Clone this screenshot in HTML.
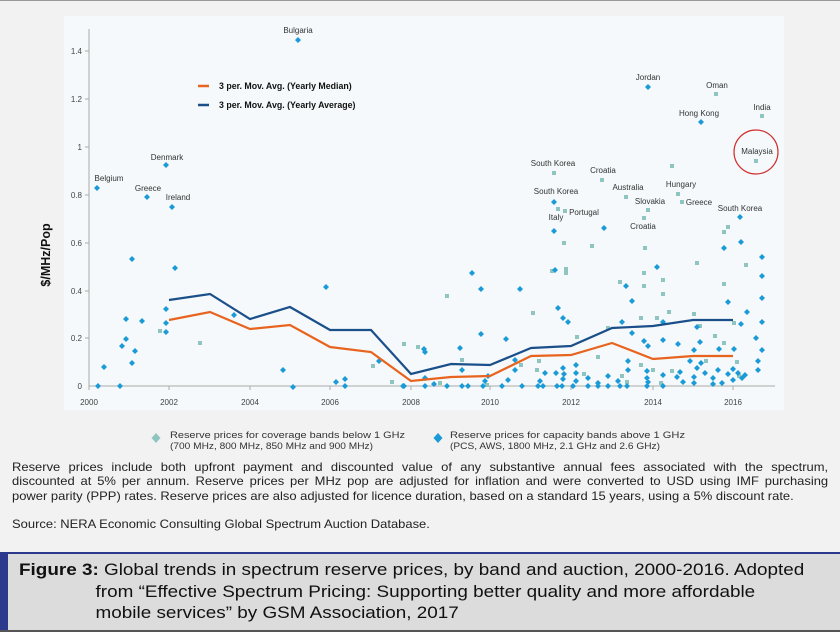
<!DOCTYPE html>
<html><head><meta charset="utf-8"><style>
html,body{margin:0;padding:0;}
body{width:840px;height:630px;background:#f2f2f2;position:relative;overflow:hidden;font-family:"Liberation Sans",sans-serif;}
.p{position:absolute;left:12px;top:461px;font-size:11.6px;line-height:14.3px;color:#222;width:730px;transform:scaleX(1.118);transform-origin:0 0;}
.p .j{display:block;text-align:justify;text-align-last:justify;white-space:nowrap;}
.cap{position:absolute;left:0;top:552px;width:840px;height:76px;background:#dcdcdc;border-top:2px solid #2b3a8c;border-bottom:2px solid #555;}
.bar{position:absolute;left:0;top:552px;width:8px;height:78px;background:#2b3a8c;}
.ct{position:absolute;left:19px;top:560px;font-size:16.3px;line-height:21.5px;color:#111;transform:scaleX(1.16);transform-origin:0 0;white-space:nowrap;}
</style></head><body>
<div style="position:absolute;left:0;top:0;width:840px;height:1px;background:#999"></div>
<svg width="840" height="630" style="position:absolute;left:0;top:0" font-family="Liberation Sans, sans-serif">
<rect x="64" y="16" width="720" height="394" fill="#f5f9fb"/>
<g stroke="#aaa" stroke-width="1">
<line x1="89" y1="29" x2="89" y2="386"/><line x1="89" y1="386" x2="775" y2="386"/>
<line x1="85" y1="51" x2="89" y2="51"/><line x1="85" y1="99" x2="89" y2="99"/><line x1="85" y1="147" x2="89" y2="147"/><line x1="85" y1="195" x2="89" y2="195"/><line x1="85" y1="243" x2="89" y2="243"/><line x1="85" y1="291" x2="89" y2="291"/><line x1="85" y1="338" x2="89" y2="338"/>
<line x1="89" y1="386" x2="89" y2="390"/><line x1="169" y1="386" x2="169" y2="390"/><line x1="250" y1="386" x2="250" y2="390"/><line x1="330" y1="386" x2="330" y2="390"/><line x1="411" y1="386" x2="411" y2="390"/><line x1="490" y1="386" x2="490" y2="390"/><line x1="571" y1="386" x2="571" y2="390"/><line x1="653" y1="386" x2="653" y2="390"/><line x1="733" y1="386" x2="733" y2="390"/>
</g>
<g font-size="8" fill="#444" text-anchor="end">
<text x="82" y="54">1.4</text><text x="82" y="102">1.2</text><text x="82" y="150">1</text><text x="82" y="198">0.8</text><text x="82" y="246">0.6</text><text x="82" y="294">0.4</text><text x="82" y="341">0.2</text><text x="82" y="389">0</text>
</g>
<g font-size="8" fill="#444" text-anchor="middle">
<text x="89" y="405">2000</text><text x="169" y="405">2002</text><text x="250" y="405">2004</text><text x="330" y="405">2006</text><text x="411" y="405">2008</text><text x="490" y="405">2010</text><text x="571" y="405">2012</text><text x="653" y="405">2014</text><text x="733" y="405">2016</text>
</g>
<text transform="translate(50,255) rotate(-90)" font-size="12.5" font-weight="bold" text-anchor="middle" fill="#111">$/MHz/Pop</text>
<line x1="198" y1="86" x2="209" y2="86" stroke="#e8641e" stroke-width="2.5"/>
<line x1="198" y1="105" x2="209" y2="105" stroke="#1a4f8a" stroke-width="2.5"/>
<text x="219" y="89" font-size="8.8" font-weight="bold" fill="#111">3 per. Mov. Avg. (Yearly Median)</text>
<text x="219" y="108" font-size="8.8" font-weight="bold" fill="#111">3 per. Mov. Avg. (Yearly Average)</text>
<g fill="#8fc5c0">
<rect x="158" y="329" width="4" height="4"/><rect x="198" y="341" width="4" height="4"/><rect x="371" y="364" width="4" height="4"/><rect x="390" y="380" width="4" height="4"/><rect x="402" y="342" width="4" height="4"/><rect x="416" y="345" width="4" height="4"/>
<rect x="445" y="294" width="4" height="4"/><rect x="531" y="311" width="4" height="4"/><rect x="562" y="241" width="4" height="4"/><rect x="590" y="244" width="4" height="4"/><rect x="550" y="269" width="4" height="4"/><rect x="564" y="267" width="4" height="4"/><rect x="564" y="271" width="4" height="4"/>
<rect x="643" y="246" width="4" height="4"/><rect x="642" y="271" width="4" height="4"/><rect x="642" y="284" width="4" height="4"/><rect x="661" y="278" width="4" height="4"/><rect x="661" y="292" width="4" height="4"/><rect x="618" y="280" width="4" height="4"/><rect x="695" y="261" width="4" height="4"/><rect x="722" y="282" width="4" height="4"/><rect x="744" y="263" width="4" height="4"/><rect x="722" y="230" width="4" height="4"/><rect x="726" y="225" width="4" height="4"/>
<rect x="670" y="164" width="4" height="4"/><rect x="676" y="192" width="4" height="4"/><rect x="680" y="200" width="4" height="4"/><rect x="646" y="208" width="4" height="4"/><rect x="642" y="216" width="4" height="4"/><rect x="600" y="178" width="4" height="4"/><rect x="624" y="195" width="4" height="4"/><rect x="552" y="171" width="4" height="4"/><rect x="556" y="207" width="4" height="4"/><rect x="563" y="209" width="4" height="4"/>
<rect x="714" y="92" width="4" height="4"/><rect x="760" y="114" width="4" height="4"/><rect x="754" y="159" width="4" height="4"/>
<rect x="667" y="310" width="4" height="4"/><rect x="692" y="312" width="4" height="4"/><rect x="698" y="324" width="4" height="4"/><rect x="732" y="321" width="4" height="4"/><rect x="639" y="316" width="4" height="4"/><rect x="655" y="316" width="4" height="4"/><rect x="606" y="326" width="4" height="4"/><rect x="575" y="335" width="4" height="4"/><rect x="596" y="355" width="4" height="4"/><rect x="460" y="358" width="4" height="4"/><rect x="537" y="359" width="4" height="4"/><rect x="713" y="334" width="4" height="4"/><rect x="722" y="341" width="4" height="4"/><rect x="704" y="359" width="4" height="4"/><rect x="735" y="360" width="4" height="4"/><rect x="651" y="368" width="4" height="4"/><rect x="639" y="363" width="4" height="4"/>
<rect x="519" y="363" width="4" height="4"/><rect x="535" y="368" width="4" height="4"/><rect x="582" y="372" width="4" height="4"/><rect x="620" y="374" width="4" height="4"/><rect x="625" y="380" width="4" height="4"/><rect x="485" y="383" width="4" height="4"/><rect x="438" y="381" width="4" height="4"/><rect x="659" y="381" width="4" height="4"/><rect x="670" y="369" width="4" height="4"/><rect x="737" y="374" width="4" height="4"/>
</g>
<g fill="#1a9ad6">
<path d="M97,185l3,3l-3,3l-3,-3z M298,37l3,3l-3,3l-3,-3z M166,162l3,3l-3,3l-3,-3z M147,194l3,3l-3,3l-3,-3z M172,204l3,3l-3,3l-3,-3z M648,84l3,3l-3,3l-3,-3z M701,119l3,3l-3,3l-3,-3z M740,214l3,3l-3,3l-3,-3z M554,199l3,3l-3,3l-3,-3z M554,228l3,3l-3,3l-3,-3z M604,225l3,3l-3,3l-3,-3z"/>
<path d="M472,270l3,3l-3,3l-3,-3z M481,286l3,3l-3,3l-3,-3z M520,286l3,3l-3,3l-3,-3z M481,331l3,3l-3,3l-3,-3z M506,336l3,3l-3,3l-3,-3z M460,345l3,3l-3,3l-3,-3z M462,367l3,3l-3,3l-3,-3z M515,357l3,3l-3,3l-3,-3z M555,267l3,3l-3,3l-3,-3z M558,305l3,3l-3,3l-3,-3z M563,315l3,3l-3,3l-3,-3z M568,319l3,3l-3,3l-3,-3z M626,283l3,3l-3,3l-3,-3z M632,298l3,3l-3,3l-3,-3z M622,319l3,3l-3,3l-3,-3z M632,330l3,3l-3,3l-3,-3z M657,264l3,3l-3,3l-3,-3z M663,319l3,3l-3,3l-3,-3z M644,338l3,3l-3,3l-3,-3z M648,343l3,3l-3,3l-3,-3z M663,337l3,3l-3,3l-3,-3z M678,341l3,3l-3,3l-3,-3z M697,324l3,3l-3,3l-3,-3z M700,339l3,3l-3,3l-3,-3z M694,347l3,3l-3,3l-3,-3z M724,245l3,3l-3,3l-3,-3z M741,239l3,3l-3,3l-3,-3z M728,299l3,3l-3,3l-3,-3z M747,309l3,3l-3,3l-3,-3z M741,321l3,3l-3,3l-3,-3z M762,254l3,3l-3,3l-3,-3z M762,273l3,3l-3,3l-3,-3z M762,295l3,3l-3,3l-3,-3z M762,319l3,3l-3,3l-3,-3z M756,335l3,3l-3,3l-3,-3z M762,347l3,3l-3,3l-3,-3z M758,358l3,3l-3,3l-3,-3z M758,367l3,3l-3,3l-3,-3z M734,346l3,3l-3,3l-3,-3z M719,346l3,3l-3,3l-3,-3z"/>
<path d="M98,383l3,3l-3,3l-3,-3z M104,364l3,3l-3,3l-3,-3z M120,383l3,3l-3,3l-3,-3z M122,343l3,3l-3,3l-3,-3z M126,316l3,3l-3,3l-3,-3z M126,336l3,3l-3,3l-3,-3z M132,360l3,3l-3,3l-3,-3z M132,256l3,3l-3,3l-3,-3z M135,348l3,3l-3,3l-3,-3z M142,318l3,3l-3,3l-3,-3z M166,306l3,3l-3,3l-3,-3z M166,320l3,3l-3,3l-3,-3z M166,329l3,3l-3,3l-3,-3z M175,265l3,3l-3,3l-3,-3z M234,312l3,3l-3,3l-3,-3z M283,367l3,3l-3,3l-3,-3z M293,384l3,3l-3,3l-3,-3z M326,284l3,3l-3,3l-3,-3z M336,379l3,3l-3,3l-3,-3z M345,376l3,3l-3,3l-3,-3z M345,383l3,3l-3,3l-3,-3z M379,358l3,3l-3,3l-3,-3z M404,383l3,3l-3,3l-3,-3z M424,346l3,3l-3,3l-3,-3z M425,349l3,3l-3,3l-3,-3z"/>
<path d="M403,383l3,3l-3,3l-3,-3z M425,383l3,3l-3,3l-3,-3z M447,383l3,3l-3,3l-3,-3z M462,383l3,3l-3,3l-3,-3z M468,383l3,3l-3,3l-3,-3z M483,383l3,3l-3,3l-3,-3z M502,383l3,3l-3,3l-3,-3z M522,383l3,3l-3,3l-3,-3z M538,383l3,3l-3,3l-3,-3z M543,383l3,3l-3,3l-3,-3z M557,383l3,3l-3,3l-3,-3z M562,383l3,3l-3,3l-3,-3z M573,383l3,3l-3,3l-3,-3z M588,383l3,3l-3,3l-3,-3z M598,383l3,3l-3,3l-3,-3z M608,383l3,3l-3,3l-3,-3z M620,383l3,3l-3,3l-3,-3z M627,383l3,3l-3,3l-3,-3z M647,383l3,3l-3,3l-3,-3z M663,383l3,3l-3,3l-3,-3z"/>
<path d="M425,375l3,3l-3,3l-3,-3z M434,381l3,3l-3,3l-3,-3z M485,378l3,3l-3,3l-3,-3z M488,373l3,3l-3,3l-3,-3z M508,377l3,3l-3,3l-3,-3z M515,367l3,3l-3,3l-3,-3z M540,378l3,3l-3,3l-3,-3z M545,370l3,3l-3,3l-3,-3z M556,370l3,3l-3,3l-3,-3z M563,376l3,3l-3,3l-3,-3z M563,365l3,3l-3,3l-3,-3z M564,371l3,3l-3,3l-3,-3z M576,378l3,3l-3,3l-3,-3z M576,362l3,3l-3,3l-3,-3z M576,370l3,3l-3,3l-3,-3z M588,375l3,3l-3,3l-3,-3z M598,380l3,3l-3,3l-3,-3z M608,373l3,3l-3,3l-3,-3z M618,378l3,3l-3,3l-3,-3z M628,367l3,3l-3,3l-3,-3z M628,358l3,3l-3,3l-3,-3z M647,375l3,3l-3,3l-3,-3z M647,368l3,3l-3,3l-3,-3z M648,379l3,3l-3,3l-3,-3z M663,372l3,3l-3,3l-3,-3z M677,374l3,3l-3,3l-3,-3z M680,369l3,3l-3,3l-3,-3z M683,379l3,3l-3,3l-3,-3z M694,374l3,3l-3,3l-3,-3z M694,380l3,3l-3,3l-3,-3z M697,365l3,3l-3,3l-3,-3z M705,370l3,3l-3,3l-3,-3z M713,375l3,3l-3,3l-3,-3z M713,381l3,3l-3,3l-3,-3z M718,367l3,3l-3,3l-3,-3z M722,380l3,3l-3,3l-3,-3z M728,371l3,3l-3,3l-3,-3z M733,377l3,3l-3,3l-3,-3z M738,370l3,3l-3,3l-3,-3z M742,375l3,3l-3,3l-3,-3z M745,372l3,3l-3,3l-3,-3z M733,366l3,3l-3,3l-3,-3z M701,360l3,3l-3,3l-3,-3z M690,358l3,3l-3,3l-3,-3z"/>
</g>
<polyline fill="none" stroke="#1a4f8a" stroke-width="2.2" points="169,300 210,294 250,319 290,307 330,330 371,330 411,374 451,364 490,365 531,348 571,346 612,328 653,326 693,320 733,320"/>
<polyline fill="none" stroke="#e8641e" stroke-width="2.2" points="169,320 210,312 250,329 290,325 330,347 371,352 411,381 451,377 490,376 531,356 571,355 612,343 653,359 693,356 733,356"/>
<g font-size="8" fill="#333" text-anchor="middle">
<text x="109" y="181">Belgium</text><text x="298" y="33">Bulgaria</text><text x="167" y="160">Denmark</text><text x="148" y="191">Greece</text><text x="178" y="200">Ireland</text>
<text x="648" y="80">Jordan</text><text x="717" y="88">Oman</text><text x="699" y="116">Hong Kong</text><text x="762" y="110">India</text><text x="757" y="154">Malaysia</text>
<text x="553" y="166">South Korea</text><text x="603" y="173">Croatia</text><text x="628" y="190">Australia</text><text x="681" y="187">Hungary</text><text x="650" y="204">Slovakia</text><text x="699" y="205">Greece</text><text x="740" y="211">South Korea</text><text x="556" y="194">South Korea</text><text x="556" y="220">Italy</text><text x="584" y="215">Portugal</text><text x="643" y="229">Croatia</text>
</g>
<circle cx="756" cy="152" r="22" fill="none" stroke="#d03030" stroke-width="1.2"/>
<path d="M156,433l4.5,5l-4.5,5l-4.5,-5z" fill="#8fc5c0"/>
<path d="M438,433l4.5,5l-4.5,5l-4.5,-5z" fill="#1a9ad6"/>
<g font-size="9" fill="#333">
<text x="170" y="438" textLength="235" lengthAdjust="spacingAndGlyphs">Reserve prices for coverage bands below 1 GHz</text>
<text x="170" y="449" textLength="203" lengthAdjust="spacingAndGlyphs">(700 MHz, 800 MHz, 850 MHz and 900 MHz)</text>
<text x="450" y="438" textLength="235" lengthAdjust="spacingAndGlyphs">Reserve prices for capacity bands above 1 GHz</text>
<text x="450" y="449" textLength="210" lengthAdjust="spacingAndGlyphs">(PCS, AWS, 1800 MHz, 2.1 GHz and 2.6 GHz)</text>
</g>
</svg>
<div class="p"><span class="j">Reserve prices include both upfront payment and discounted value of any substantive annual fees associated with the spectrum,</span><span class="j">discounted at 5% per annum. Reserve prices per MHz pop are adjusted for inflation and were converted to USD using IMF purchasing</span><span class="j" style="text-align-last:auto">power parity (PPP) rates. Reserve prices are also adjusted for licence duration, based on a standard 15 years, using a 5% discount rate.</span><div style="margin-top:14px">Source: NERA Economic Consulting Global Spectrum Auction Database.</div></div>
<div class="cap"></div><div class="bar"></div>
<div class="ct"><b>Figure 3:</b> Global trends in spectrum reserve prices, by band and auction, 2000-2016. Adopted<br><span style="padding-left:66px">from “Effective Spectrum Pricing: Supporting better quality and more affordable</span><br><span style="padding-left:66px">mobile services” by GSM Association, 2017</span></div>
</body></html>
